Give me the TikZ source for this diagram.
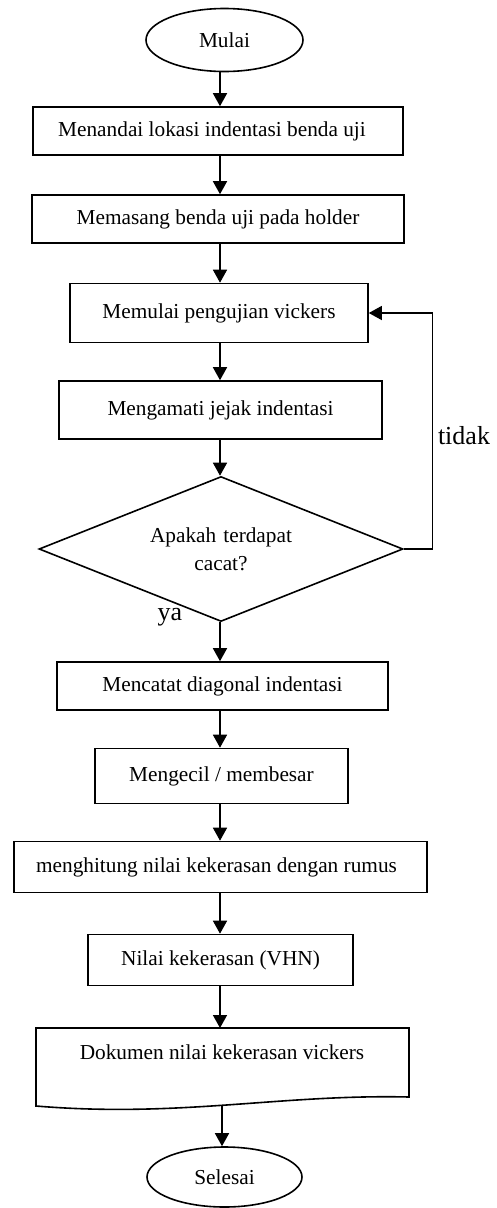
\documentclass[tikz,border=0pt]{standalone}
\usepackage{fontspec}
\setmainfont{Liberation Serif}
\usetikzlibrary{arrows.meta,shapes.geometric}
\begin{document}
\begin{tikzpicture}[x=1pt,y=-1pt,
  every node/.style={font=\fontsize{21.3}{28}\selectfont},
  procbox/.style={draw,rectangle,line width=1.6pt,inner sep=0pt,align=center},
  term/.style={draw,ellipse,line width=1.6pt,inner sep=0pt},
  decide/.style={draw,diamond,line width=1.6pt,inner sep=0pt,aspect=2.5,align=center,text width=170pt},
  arr/.style={line width=1.5pt,-{Triangle[length=13pt,width=14pt]}},
  lbl/.style={font=\fontsize{26}{30}\selectfont,inner sep=0pt}]
\useasboundingbox (0,0) rectangle (496,1208);
\coordinate (ax) at (220,0);
\node[term,minimum width=157pt,minimum height=63pt] (mulai) at (224.5,40) {Mulai};
\node[procbox,minimum width=370pt,minimum height=48pt] (b1) at (218,131) {Menandai lokasi indentasi benda uji\hspace{12pt}};
\node[procbox,minimum width=372pt,minimum height=48pt] (b2) at (218,219) {Memasang benda uji pada holder};
\node[procbox,minimum width=298pt,minimum height=59pt] (b3) at (219,313) {Memulai pengujian vickers};
\node[procbox,minimum width=323pt,minimum height=58pt] (b4) at (220.5,410) {Mengamati jejak indentasi};
\node[decide,minimum width=364pt,minimum height=145pt] (dia) at (221,549) {Apakah terdapat\\cacat?};
\node[procbox,minimum width=331pt,minimum height=48pt] (b5) at (222.5,686) {Mencatat diagonal indentasi};
\node[procbox,minimum width=253pt,minimum height=55pt] (b6) at (221.5,776) {Mengecil / membesar};
\node[procbox,minimum width=413pt,minimum height=51pt] (b7) at (220.5,867) {menghitung nilai kekerasan dengan rumus\hspace{8pt}};
\node[procbox,minimum width=265pt,minimum height=51pt] (b8) at (220.5,960) {Nilai kekerasan (VHN)};
\draw[line width=1.6pt] (36,1028) -- (409,1028) -- (409,1097)
  .. controls (280,1094) and (180,1118) .. (36,1106) -- cycle;
\coordinate (doct) at (220,1028);
\node[inner sep=0pt] (doc) at (222,1052) {Dokumen nilai kekerasan vickers};
\coordinate (docb) at (222,1105.5);
\node[term,minimum width=155pt,minimum height=60pt] (selesai) at (224.5,1177) {Selesai};
\node[lbl] (tidak) at (464,436) {tidak};
\node[lbl] (ya) at (170,617) {ya};
\draw[arr] (mulai.south -| ax) -- (b1.north -| ax);
\draw[arr] (b1.south -| ax) -- (b2.north -| ax);
\draw[arr] (b2.south -| ax) -- (b3.north -| ax);
\draw[arr] (b3.south -| ax) -- (b4.north -| ax);
\draw[arr] (b4.south -| ax) -- (dia.north -| ax);
\draw[arr] (dia.south -| ax) -- (b5.north -| ax);
\draw[arr] (b5.south -| ax) -- (b6.north -| ax);
\draw[arr] (b6.south -| ax) -- (b7.north -| ax);
\draw[arr] (b7.south -| ax) -- (b8.north -| ax);
\draw[arr] (b8.south -| ax) -- (doct);
\draw[arr] (docb) -- (selesai.north -| docb);
\draw[line width=1.3pt,-{Triangle[length=13pt,width=14pt]}] (dia.east) -- ++(29,0) |- (b3.east);
\end{tikzpicture}
\end{document}
